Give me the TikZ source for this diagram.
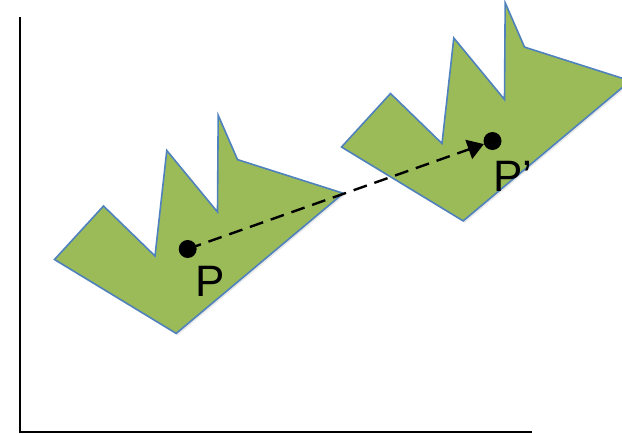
\documentclass[tikz,border=0pt]{standalone}
\usepackage{fontspec}
\setmainfont{Liberation Sans}
\usetikzlibrary{arrows.meta,shadows}
\definecolor{crowngreen}{HTML}{9BBB59}
\definecolor{crownblue}{HTML}{4F81BD}
\tikzset{
  crownshape/.style={fill=crowngreen,draw=crownblue,line width=1.6pt,line join=miter,
    drop shadow={opacity=0.18,shadow xshift=1.5pt,shadow yshift=-2pt}},
  dot/.style={circle,fill=black,inner sep=0pt,minimum size=18pt},
  ptlabel/.style={font=\fontsize{44}{47}\selectfont,inner sep=0pt},
  movearrow/.style={line width=2.4pt,dash pattern=on 14pt off 8pt,-{Triangle[length=16pt,width=20pt]}}
}
\newcommand{\crownpath}{(54.5,259.5) -- (103.5,206) -- (155,256) -- (166.8,150.5) -- (217.5,212)
  -- (218.2,115.3) -- (237.5,159.6) -- (343.3,193.3) -- (176.2,333.4) -- cycle}
\begin{document}
\begin{tikzpicture}[x=1pt,y=-1pt]
    \useasboundingbox (0,0) rectangle (622,434);
    \clip (0,0) rectangle (622,434);
    % axes
    \draw[line width=1.8pt] (20,17) -- (20,432) -- (532,432);
    % original and translated shape
    \path[crownshape] \crownpath;
    \begin{scope}[shift={(287,-112.5)}]
        \path[crownshape] \crownpath;
    \end{scope}
    % points
    \node[dot] (p) at (187.7,249) {};
    \node[dot] (pp) at (492.5,141) {};
    \draw[movearrow] (p.center) -- (pp);
    \node[ptlabel] (plabel) at (210,281) {P};
    \node[ptlabel] (pplabel) at (513,176) {P’};
\end{tikzpicture}
\end{document}
